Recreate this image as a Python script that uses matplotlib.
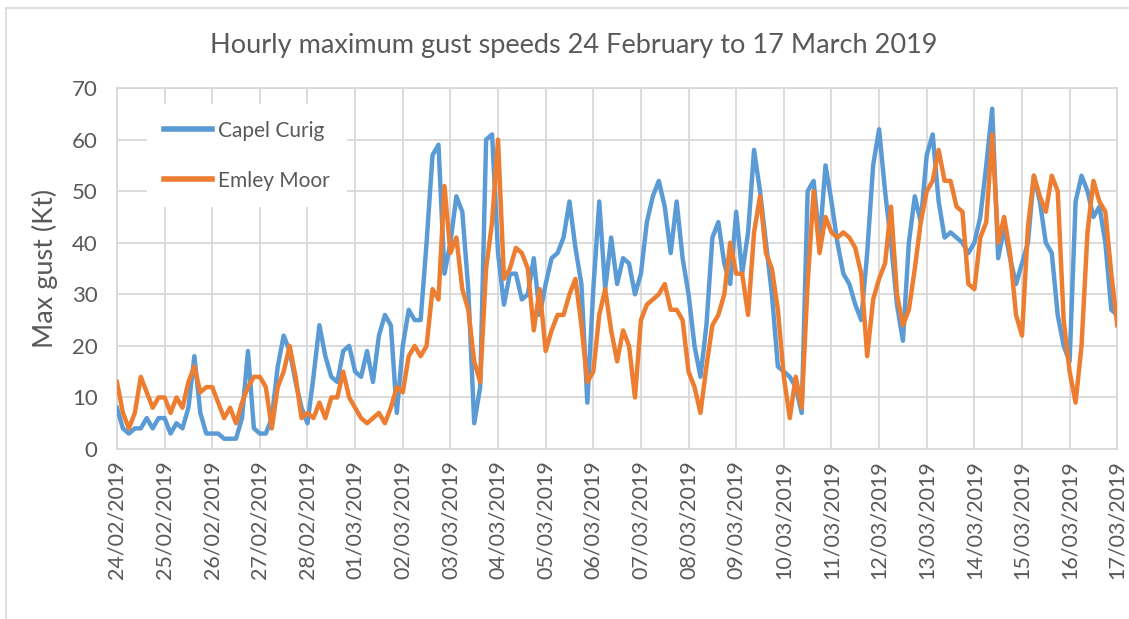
import pandas as pd
import matplotlib
matplotlib.use('Agg')
from matplotlib import pyplot as plt
import matplotlib.dates as mdates

plt.rcParams['font.family'] = ['Lato', 'DejaVu Sans']

# 3-hourly readings of max gust (Kt), 24/02/2019 00:00 .. 17/03/2019 00:00
capel_curig = [
    8, 4, 3, 4, 4, 6, 4, 6,
    6, 3, 5, 4, 8, 18, 7, 3,
    3, 3, 2, 2, 2, 6, 19, 4,
    3, 3, 6, 16, 22, 19, 13, 8,
    5, 14, 24, 18, 14, 13, 19, 20,
    15, 14, 19, 13, 22, 26, 24, 7,
    20, 27, 25, 25, 40, 57, 59, 34,
    40, 49, 46, 31, 5, 12, 60, 61,
    38, 28, 34, 34, 29, 30, 37, 26,
    32, 37, 38, 41, 48, 39, 32, 9,
    31, 48, 31, 41, 32, 37, 36, 30,
    34, 44, 49, 52, 47, 38, 48, 37,
    30, 20, 14, 24, 41, 44, 36, 32,
    46, 34, 42, 58, 50, 40, 30, 16,
    15, 14, 12, 7, 50, 52, 40, 55,
    48, 40, 34, 32, 28, 25, 38, 55,
    62, 50, 40, 28, 21, 40, 49, 44,
    57, 61, 48, 41, 42, 41, 40, 38,
    40, 45, 55, 66, 37, 43, 37, 32,
    36, 40, 53, 48, 40, 38, 26, 20,
    17, 48, 53, 50, 45, 47, 40, 27,
    26,
]
emley_moor = [
    13, 7, 4, 7, 14, 11, 8, 10,
    10, 7, 10, 8, 13, 16, 11, 12,
    12, 9, 6, 8, 5, 9, 12, 14,
    14, 12, 4, 12, 15, 20, 14, 6,
    7, 6, 9, 6, 10, 10, 15, 10,
    8, 6, 5, 6, 7, 5, 8, 12,
    11, 18, 20, 18, 20, 31, 29, 51,
    38, 41, 31, 27, 17, 13, 35, 44,
    60, 33, 35, 39, 38, 35, 23, 31,
    19, 23, 26, 26, 30, 33, 24, 13,
    15, 26, 31, 23, 17, 23, 20, 10,
    25, 28, 29, 30, 32, 27, 27, 25,
    15, 12, 7, 16, 24, 26, 30, 40,
    34, 34, 26, 42, 49, 38, 35, 27,
    14, 6, 14, 8, 32, 50, 38, 45,
    42, 41, 42, 41, 39, 34, 18, 29,
    33, 36, 47, 30, 24, 27, 35, 44,
    50, 52, 58, 52, 52, 47, 46, 32,
    31, 41, 44, 61, 40, 45, 38, 26,
    22, 43, 53, 49, 46, 53, 50, 25,
    15, 9, 20, 42, 52, 48, 46, 34,
    24,
]
times = pd.date_range('2019-02-24', periods=len(capel_curig), freq='3h')

txt = '#595959'
grid = '#d9d9d9'

fig = plt.figure(figsize=(11.29, 6.19), dpi=100)
ax = fig.add_axes([0.1036, 0.2746, 0.886, 0.5832])

ax.plot(times, capel_curig, color='#5B9BD5', lw=3.2, label='Capel Curig',
        zorder=3, solid_joinstyle='round')
ax.plot(times, emley_moor, color='#ED7D31', lw=3.2, label='Emley Moor',
        zorder=3, solid_joinstyle='round')

ax.set_xlim(times[0], times[-1])
ax.set_ylim(0, 70)
ax.set_yticks(range(0, 71, 10))
ax.xaxis.set_major_locator(mdates.DayLocator())
ax.xaxis.set_major_formatter(mdates.DateFormatter('%d/%m/%Y'))
ax.grid(True, color=grid, lw=1.3, zorder=0)
for s in ax.spines.values():
    s.set_color(grid)
    s.set_linewidth(1.3)
ax.tick_params(length=0, colors=txt, labelsize=15.5, pad=8)
ax.tick_params(axis='y', labelsize=16, pad=14)
plt.setp(ax.get_xticklabels(), rotation=90)
ax.set_ylabel('Max gust (Kt)', fontsize=19.5, color=txt, labelpad=10)

fig.text(0.508, 0.927, 'Hourly maximum gust speeds 24 February to 17 March 2019',
         fontsize=19.5, color=txt, ha='center', va='center')

leg = ax.legend(loc='upper left', bbox_to_anchor=(0.02, 0.985), fontsize=15,
                frameon=True, facecolor='white', edgecolor='none', framealpha=1,
                fancybox=False, labelspacing=1.45, handlelength=2.3,
                handletextpad=0.3, borderpad=0.8)
for t in leg.get_texts():
    t.set_color(txt)
for h in leg.get_lines():
    h.set_linewidth(4)

# chart border
fig.add_artist(plt.Line2D([0.005, 1], [0.987, 0.987], color=grid, lw=1.2))
fig.add_artist(plt.Line2D([0.005, 0.005], [0, 0.987], color=grid, lw=1.2))

fig.savefig('out.png', dpi=100)
